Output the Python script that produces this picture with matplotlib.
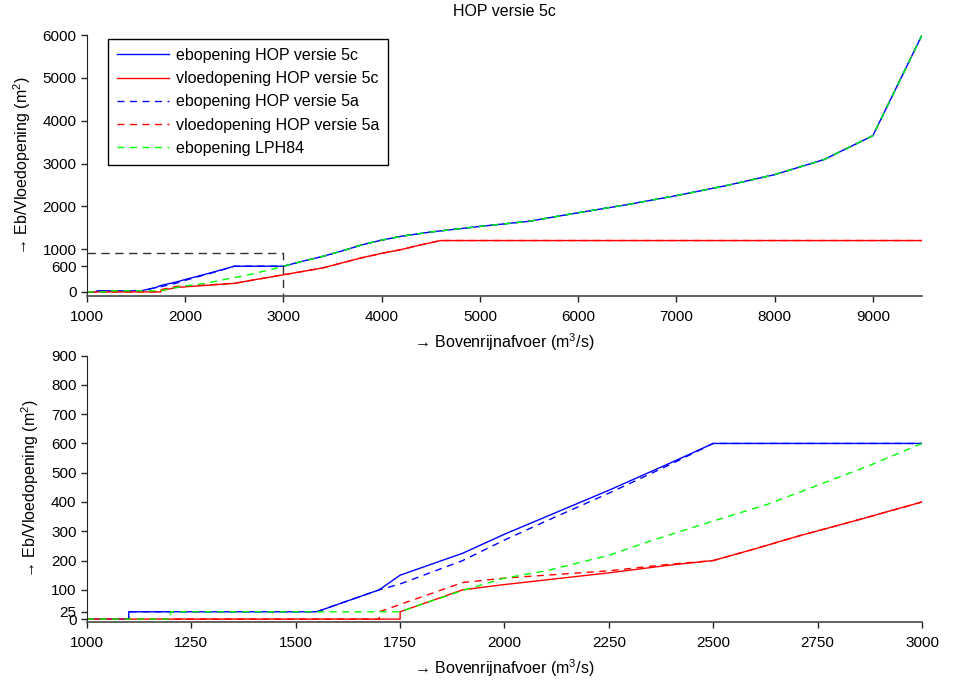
import matplotlib
matplotlib.use("Agg")
import matplotlib.pyplot as plt
import numpy as np

plt.rcParams['font.family'] = ['Liberation Sans', 'DejaVu Sans']
plt.rcParams['mathtext.fontset'] = 'custom'
plt.rcParams['mathtext.rm'] = 'Liberation Sans'
plt.rcParams['mathtext.it'] = 'Liberation Sans'

# ---- data (discharge Q in m3/s, opening in m2) ----
# high-flow part shared by the ebb curves (Q >= 3000)
q_eb_high = [3200, 3400, 3600, 3800, 4000, 4200, 4500, 5000, 5500, 6000, 6500, 7000, 7500, 8000, 8500, 9000, 9500]
a_eb_high = [720, 830, 960, 1100, 1210, 1300, 1400, 1530, 1650, 1850, 2040, 2250, 2480, 2740, 3090, 3650, 6000]

# high-flow part shared by the flood curves
q_vl_high = [3200, 3400, 3600, 3800, 4000, 4200, 4400, 4600, 9500]
a_vl_high = [480, 560, 680, 800, 900, 990, 1100, 1200, 1200]

# ebopening HOP versie 5c (low-flow part)
q_eb5c = [1000, 1100, 1100, 1550, 1700, 1750, 1900, 2000, 2100, 2250, 2400, 2500, 3000]
a_eb5c = [0, 0, 25, 25, 100, 150, 225, 290, 350, 440, 535, 600, 600]

# vloedopening HOP versie 5c
q_vl5c = [1000, 1750, 1750, 1900, 2000, 2250, 2400, 2500, 2600, 2700, 2850, 3000]
a_vl5c = [0, 0, 25, 100, 118, 158, 185, 200, 240, 282, 340, 400]

# ebopening HOP versie 5a
q_eb5a = [1000, 1100, 1100, 1550, 1700, 1750, 1900, 2000, 2100, 2250, 2400, 2500, 3000]
a_eb5a = [0, 0, 25, 25, 100, 120, 200, 270, 335, 430, 530, 600, 600]

# vloedopening HOP versie 5a
q_vl5a = [1000, 1700, 1700, 1900, 2000, 2250, 2400, 2500, 2600, 2700, 2850, 3000]
a_vl5a = [0, 0, 25, 125, 140, 165, 188, 200, 240, 282, 340, 400]

# ebopening LPH84
q_lph = [1000, 1200, 1200, 1750, 1800, 1900, 2000, 2100, 2250, 2350, 2500, 2630, 2750, 2875, 3000]
a_lph = [0, 0, 25, 25, 50, 98, 140, 165, 218, 267, 335, 392, 457, 525, 600]

# zoom-region indicator in the upper panel
box_q = [1000, 3000, 3000]
box_a = [900, 900, -100]

labels = ['ebopening HOP versie 5c', 'vloedopening HOP versie 5c',
          'ebopening HOP versie 5a', 'vloedopening HOP versie 5a',
          'ebopening LPH84']

top_yticks = [0, 600, 1000, 2000, 3000, 4000, 5000, 6000]
top_xticks = [1000, 2000, 3000, 4000, 5000, 6000, 7000, 8000, 9000]
bot_yticks = [0, 25, 100, 200, 300, 400, 500, 600, 700, 800, 900]
bot_xticks = [1000, 1250, 1500, 1750, 2000, 2250, 2500, 2750, 3000]

# full series
eb5c_q = q_eb5c + q_eb_high; eb5c_a = a_eb5c + a_eb_high
vl5c_q = q_vl5c + q_vl_high; vl5c_a = a_vl5c + a_vl_high
eb5a_q = q_eb5a + q_eb_high; eb5a_a = a_eb5a + a_eb_high
vl5a_q = q_vl5a + q_vl_high; vl5a_a = a_vl5a + a_vl_high
lph_q = q_lph + q_eb_high; lph_a = a_lph + a_eb_high

fig = plt.figure(figsize=(9.55, 6.84), dpi=100)
ax1 = fig.add_axes([0.0911, 0.567, 0.8743, 0.3816])
ax2 = fig.add_axes([0.0911, 0.0906, 0.8743, 0.3895])

BLUE = '#0000ff'; RED = '#ff0000'; GREEN = '#00ff00'
dash = (0, (5, 4))

def draw(ax):
    ax.plot(eb5c_q, eb5c_a, color=BLUE, lw=1.0, label=labels[0])
    ax.plot(vl5c_q, vl5c_a, color=RED, lw=1.0, label=labels[1])
    ax.plot(eb5a_q, eb5a_a, color=BLUE, lw=1.0, ls=dash, label=labels[2])
    ax.plot(vl5a_q, vl5a_a, color=RED, lw=1.0, ls=dash, label=labels[3])
    ax.plot(lph_q, lph_a, color=GREEN, lw=1.0, ls=dash, label=labels[4])

draw(ax1)
ax1.plot(box_q, box_a, color='#333333', lw=1.0, ls=(0, (6, 4)))
draw(ax2)

xlabel = '\u2192 Bovenrijnafvoer (m$^{3}$/s)'
ylabel = '\u2192 Eb/Vloedopening (m$^{2}$)'

for ax in (ax1, ax2):
    for s in ('top', 'right'):
        ax.spines[s].set_visible(False)
    ax.spines['left'].set_color('#222222')
    ax.spines['bottom'].set_color('#555555')
    ax.spines['bottom'].set_linewidth(1.3)
    ax.tick_params(direction='out', length=4, width=1, colors='#222222',
                   labelsize=11, labelcolor='black')
    ax.tick_params(axis='x', pad=6)
    ax.set_xlabel(xlabel, fontsize=11.5, labelpad=5)
    ax.set_ylabel(ylabel, fontsize=11.5, labelpad=7)

ax1.set_xlim(1000, 9500)
ax1.set_ylim(-100, 6000)
ax1.set_xticks(top_xticks)
ax1.set_yticks(top_yticks)
ax1.set_title('HOP versie 5c', fontsize=11.5, pad=14)

ax2.set_xlim(1000, 3000)
ax2.set_ylim(-10, 900)
ax2.set_xticks(bot_xticks)
ax2.set_yticks(bot_yticks)

leg = ax1.legend(loc='upper left', bbox_to_anchor=(0.025, 0.985), fontsize=11.5,
                 frameon=True, fancybox=False, edgecolor='black', framealpha=1,
                 handlelength=3.3, handletextpad=0.4, labelspacing=0.52,
                 borderpad=0.55, borderaxespad=0)
leg.get_frame().set_linewidth(1.0)

fig.savefig('out.png', dpi=100)
